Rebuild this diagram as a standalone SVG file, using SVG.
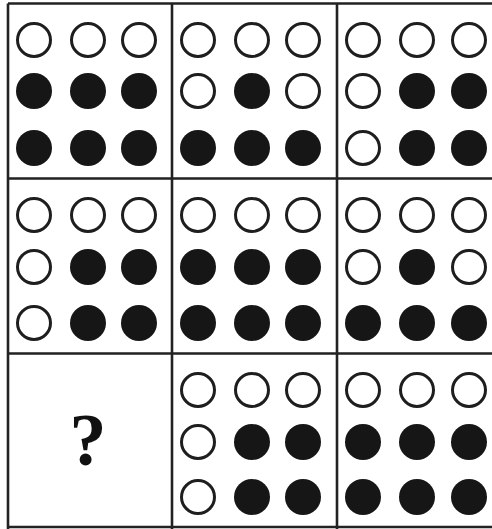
<svg xmlns="http://www.w3.org/2000/svg" xmlns:xlink="http://www.w3.org/1999/xlink" width="492" height="529" viewBox="0 0 492 529">
<style>
.o{fill:#fff;stroke:#1e1e1e;stroke-width:3}
.f{fill:#161616}
.g{stroke:#222;stroke-width:2.6;fill:none}
.q{font-family:"Liberation Serif",serif;font-weight:bold;font-size:74px;fill:#111}
</style>
<defs>
<circle id="O" r="16.5" class="o"/>
<circle id="F" r="18" class="f"/>
</defs>
<rect width="492" height="529" fill="#fff"/>
<g id="connectors">
<path class="g" d="M8,3.5H492M8,178.5H492M8,353.5H492M8,527H492M8,3.5V529M172,3.5V529M337,3.5V529"/>
</g>
<g id="cell-1-1">
<use href="#O" x="34" y="40"/><use href="#O" x="88" y="40"/><use href="#O" x="139" y="40"/>
<use href="#F" x="34" y="91"/><use href="#F" x="88" y="91"/><use href="#F" x="139" y="91"/>
<use href="#F" x="34" y="148"/><use href="#F" x="88" y="148"/><use href="#F" x="139" y="148"/>
</g>
<g id="cell-1-2">
<use href="#O" x="198" y="40"/><use href="#O" x="252" y="40"/><use href="#O" x="303" y="40"/>
<use href="#O" x="198" y="91"/><use href="#F" x="252" y="91"/><use href="#O" x="303" y="91"/>
<use href="#F" x="198" y="148"/><use href="#F" x="252" y="148"/><use href="#F" x="303" y="148"/>
</g>
<g id="cell-1-3">
<use href="#O" x="363" y="40"/><use href="#O" x="417" y="40"/><use href="#O" x="469" y="40"/>
<use href="#O" x="363" y="91"/><use href="#F" x="417" y="91"/><use href="#F" x="469" y="91"/>
<use href="#O" x="363" y="148"/><use href="#F" x="417" y="148"/><use href="#F" x="469" y="148"/>
</g>
<g id="cell-2-1">
<use href="#O" x="34" y="215"/><use href="#O" x="88" y="215"/><use href="#O" x="139" y="215"/>
<use href="#O" x="34" y="267"/><use href="#F" x="88" y="267"/><use href="#F" x="139" y="267"/>
<use href="#O" x="34" y="323"/><use href="#F" x="88" y="323"/><use href="#F" x="139" y="323"/>
</g>
<g id="cell-2-2">
<use href="#O" x="198" y="215"/><use href="#O" x="252" y="215"/><use href="#O" x="303" y="215"/>
<use href="#F" x="198" y="267"/><use href="#F" x="252" y="267"/><use href="#F" x="303" y="267"/>
<use href="#F" x="198" y="323"/><use href="#F" x="252" y="323"/><use href="#F" x="303" y="323"/>
</g>
<g id="cell-2-3">
<use href="#O" x="363" y="215"/><use href="#O" x="417" y="215"/><use href="#O" x="469" y="215"/>
<use href="#O" x="363" y="267"/><use href="#F" x="417" y="267"/><use href="#O" x="469" y="267"/>
<use href="#F" x="363" y="323"/><use href="#F" x="417" y="323"/><use href="#F" x="469" y="323"/>
</g>
<g id="cell-3-1">
<text class="q" x="88" y="465" text-anchor="middle">?</text>
</g>
<g id="cell-3-2">
<use href="#O" x="198" y="390"/><use href="#O" x="252" y="390"/><use href="#O" x="303" y="390"/>
<use href="#O" x="198" y="442"/><use href="#F" x="252" y="442"/><use href="#F" x="303" y="442"/>
<use href="#O" x="198" y="497"/><use href="#F" x="252" y="497"/><use href="#F" x="303" y="497"/>
</g>
<g id="cell-3-3">
<use href="#O" x="363" y="390"/><use href="#O" x="417" y="390"/><use href="#O" x="469" y="390"/>
<use href="#F" x="363" y="442"/><use href="#F" x="417" y="442"/><use href="#F" x="469" y="442"/>
<use href="#F" x="363" y="497"/><use href="#F" x="417" y="497"/><use href="#F" x="469" y="497"/>
</g>
</svg>
